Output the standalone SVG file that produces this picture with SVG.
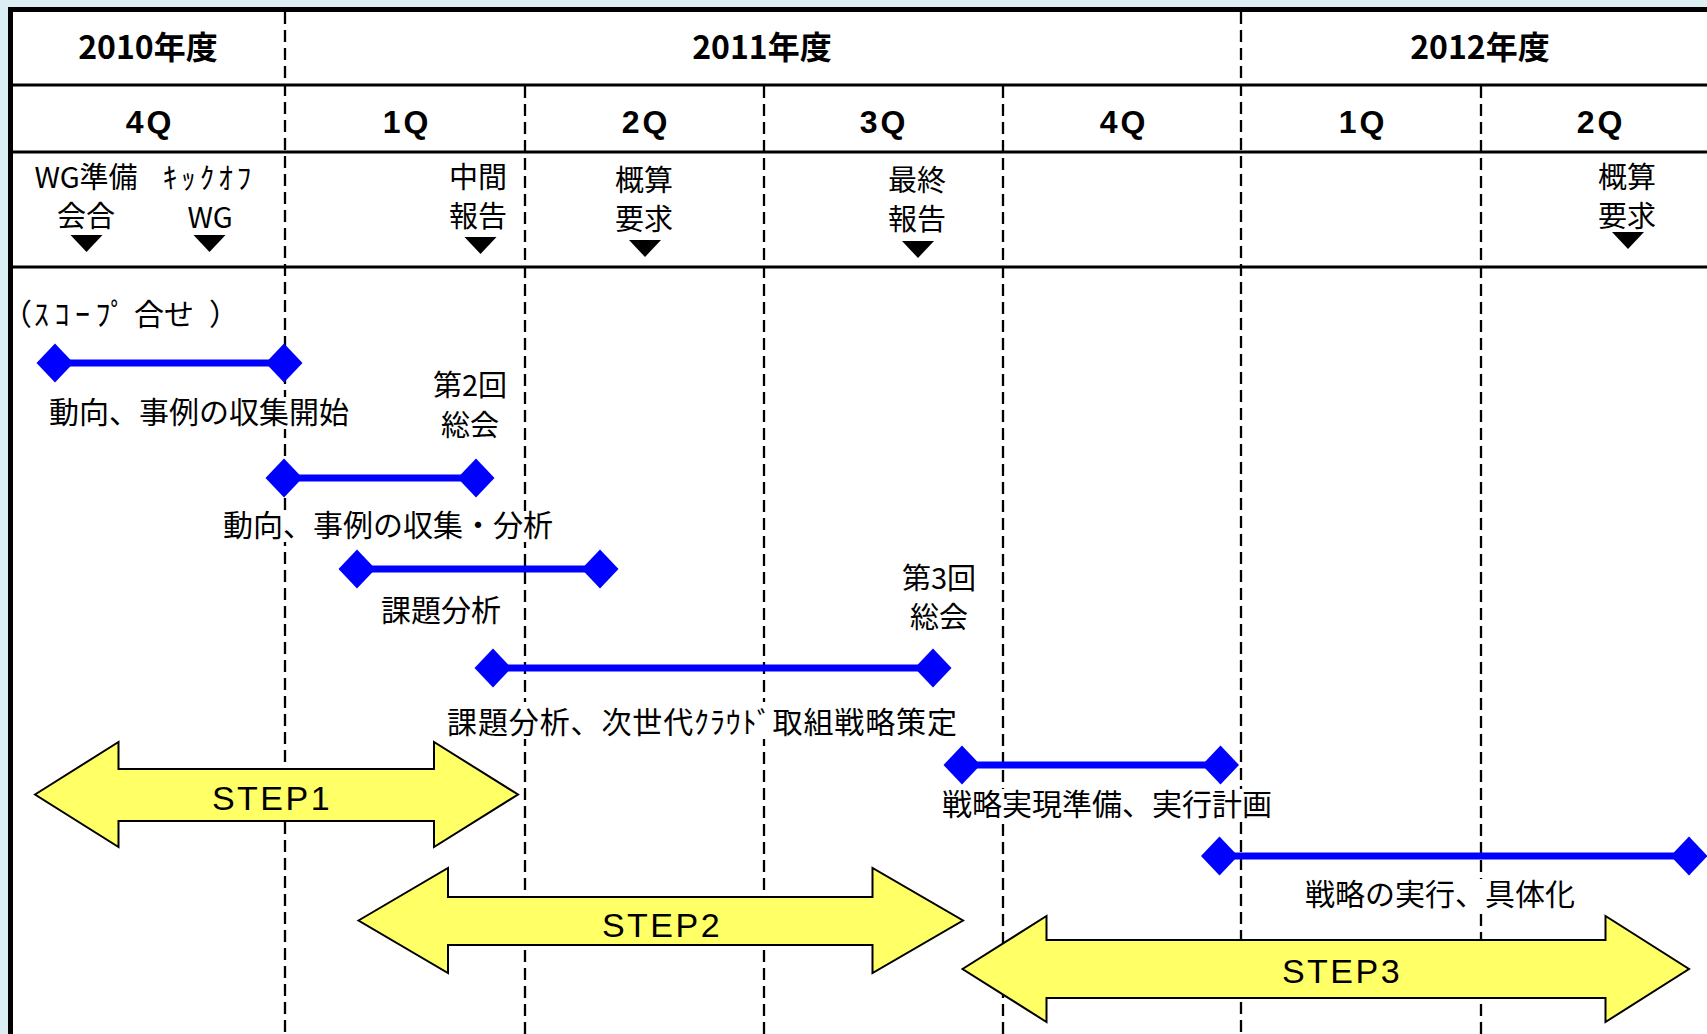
<svg xmlns="http://www.w3.org/2000/svg" width="1707" height="1034" viewBox="0 0 1707 1034">
<style>
.grid{stroke:#000;stroke-width:3;fill:none}
.dash{stroke:#000;stroke-width:2.3;stroke-dasharray:12 6;fill:none}
.yr{font-family:"Noto Sans CJK JP",sans-serif;font-weight:bold;font-size:32px;fill:#000;text-anchor:middle}
.q{font-family:"Liberation Sans",Arial,sans-serif;font-weight:bold;font-size:32px;letter-spacing:3px;fill:#000;text-anchor:middle}
.ms{font-family:"Noto Sans CJK JP",sans-serif;font-size:29px;fill:#000;text-anchor:middle}
.lb{font-family:"Noto Sans CJK JP",sans-serif;font-size:30px;fill:#000;text-anchor:middle}
.bar{stroke:#0000ff;stroke-width:7;fill:none}
.dia{fill:#0000ff}
.tri{fill:#000}
.step{fill:#ffff66;stroke:#000;stroke-width:2;stroke-linejoin:miter}
.st{font-family:"Liberation Sans",Arial,sans-serif;font-size:34px;letter-spacing:2.5px;fill:#000;text-anchor:middle}
.bg{fill:#fff}
</style>
<defs>
<path id="dm" d="M-18.5,0 L0,-19.5 L18.5,0 L0,19.5 Z"/>
<path id="tr" d="M-16,0 L16,0 L0,17 Z"/>
</defs>
<rect x="0" y="0" width="1707" height="1034" fill="#dbeef4"/>
<rect x="10" y="9" width="1697" height="1025" fill="#fff"/>
<g id="grid">
<line class="dash" x1="285" y1="12" x2="285" y2="1034"/>
<line class="dash" x1="1241" y1="12" x2="1241" y2="1034"/>
<line class="dash" x1="525" y1="86" x2="525" y2="1034"/>
<line class="dash" x1="764" y1="86" x2="764" y2="1034"/>
<line class="dash" x1="1003" y1="86" x2="1003" y2="1034"/>
<line class="dash" x1="1481" y1="86" x2="1481" y2="1034"/>
<line class="grid" x1="10" y1="85" x2="1707" y2="85"/>
<line class="grid" x1="10" y1="152" x2="1707" y2="152"/>
<line class="grid" x1="10" y1="267" x2="1707" y2="267"/>
<line x1="8" y1="9.5" x2="1707" y2="9.5" stroke="#000" stroke-width="5"/>
<line x1="10.5" y1="7" x2="10.5" y2="1034" stroke="#000" stroke-width="5"/>
</g>
<g id="years">
<text class="yr" x="148" y="59">2010年度</text>
<text class="yr" x="762" y="59">2011年度</text>
<text class="yr" x="1480" y="59">2012年度</text>
</g>
<g id="quarters">
<text class="q" x="150" y="133">4Q</text>
<text class="q" x="407" y="133">1Q</text>
<text class="q" x="646" y="133">2Q</text>
<text class="q" x="884" y="133">3Q</text>
<text class="q" x="1124" y="133">4Q</text>
<text class="q" x="1363" y="133">1Q</text>
<text class="q" x="1601" y="133">2Q</text>
</g>
<g id="milestone-wg">
<text class="ms"><tspan x="86" y="188">WG準備</tspan><tspan x="86" y="227">会合</tspan></text>
<use href="#tr" class="tri" x="86.5" y="235"/>
</g>
<g id="milestone-kickoff">
<text class="ms"><tspan x="209" y="189" letter-spacing="4">ｷｯｸｵﾌ</tspan><tspan x="210" y="228">WG</tspan></text>
<use href="#tr" class="tri" x="209.5" y="235"/>
</g>
<g id="milestone-mid">
<text class="ms"><tspan x="478" y="188">中間</tspan><tspan x="478" y="227">報告</tspan></text>
<use href="#tr" class="tri" x="480.5" y="237"/>
</g>
<g id="milestone-budget1">
<text class="ms"><tspan x="644" y="191">概算</tspan><tspan x="644" y="230">要求</tspan></text>
<use href="#tr" class="tri" x="645" y="240"/>
</g>
<g id="milestone-final">
<text class="ms"><tspan x="917" y="191">最終</tspan><tspan x="917" y="230">報告</tspan></text>
<use href="#tr" class="tri" x="918" y="241"/>
</g>
<g id="milestone-budget2">
<text class="ms"><tspan x="1627" y="188">概算</tspan><tspan x="1627" y="227">要求</tspan></text>
<use href="#tr" class="tri" x="1628" y="232"/>
</g>
<g id="steps">
<g id="step1">
<path class="step" d="M35,794.5 L118.5,742 L118.5,769 L434,769 L434,742 L518,794.5 L434,847 L434,821 L118.5,821 L118.5,847 Z"/>
<text class="st" x="272" y="810">STEP1</text>
</g>
<g id="step2">
<path class="step" d="M358.5,920.5 L448,868 L448,897 L872.5,897 L872.5,868 L963,920.5 L872.5,973 L872.5,945 L448,945 L448,973 Z"/>
<text class="st" x="662" y="937">STEP2</text>
</g>
<g id="step3">
<path class="step" d="M962.5,969 L1046.5,916 L1046.5,940 L1605.5,940 L1605.5,916 L1689,969 L1605.5,1022 L1605.5,998 L1046.5,998 L1046.5,1022 Z"/>
<text class="st" x="1342" y="983">STEP3</text>
</g>
</g>
<g id="connectors">
<line class="bar" x1="55" y1="363" x2="284" y2="363"/>
<line class="bar" x1="284" y1="478" x2="476" y2="478"/>
<line class="bar" x1="357" y1="569" x2="600" y2="569"/>
<line class="bar" x1="493" y1="668" x2="933" y2="668"/>
<line class="bar" x1="962" y1="765" x2="1220.5" y2="765"/>
<line class="bar" x1="1219.5" y1="856" x2="1689" y2="856"/>
</g>
<g id="task1">
<text class="lb" y="325" style="text-anchor:start"><tspan x="2">（</tspan><tspan x="34" letter-spacing="5.5">ｽｺｰﾌﾟ</tspan><tspan x="134">合せ</tspan><tspan x="209">）</tspan></text>
<use href="#dm" class="dia" x="55" y="363"/>
<use href="#dm" class="dia" x="284" y="363"/>
<rect class="bg" x="44" y="397" width="311" height="32"/>
<text class="lb" x="199" y="423">動向、事例の収集開始</text>
</g>
<g id="meeting2">
<text class="ms"><tspan x="470" y="396">第2回</tspan><tspan x="470" y="436">総会</tspan></text>
</g>
<g id="task2">
<use href="#dm" class="dia" x="284" y="478"/>
<use href="#dm" class="dia" x="476" y="478"/>
<rect class="bg" x="225" y="511" width="327" height="31"/>
<text class="lb" x="388" y="536">動向、事例の収集・分析</text>
</g>
<g id="task3">
<use href="#dm" class="dia" x="357" y="569"/>
<use href="#dm" class="dia" x="600" y="569"/>
<rect class="bg" x="376" y="597" width="146" height="30"/>
<text class="lb" x="441" y="621">課題分析</text>
</g>
<g id="meeting3">
<text class="ms"><tspan x="939" y="589">第3回</tspan><tspan x="939" y="628">総会</tspan></text>
</g>
<g id="task4">
<use href="#dm" class="dia" x="493" y="668"/>
<use href="#dm" class="dia" x="933" y="668"/>
<rect class="bg" x="443" y="702" width="517" height="37"/>
<text class="lb" x="447" y="733" textLength="510" lengthAdjust="spacing" style="text-anchor:start">課題分析、次世代ｸﾗｳﾄﾞ取組戦略策定</text>
</g>
<g id="task5">
<use href="#dm" class="dia" x="962" y="765"/>
<use href="#dm" class="dia" x="1220.5" y="765"/>
<rect class="bg" x="936" y="789" width="343" height="32"/>
<text class="lb" x="1107" y="815">戦略実現準備、実行計画</text>
</g>
<g id="task6">
<use href="#dm" class="dia" x="1219.5" y="856"/>
<use href="#dm" class="dia" x="1689" y="856"/>
<rect class="bg" x="1299" y="879" width="282" height="32"/>
<text class="lb" x="1440" y="905">戦略の実行、具体化</text>
</g>
</svg>
